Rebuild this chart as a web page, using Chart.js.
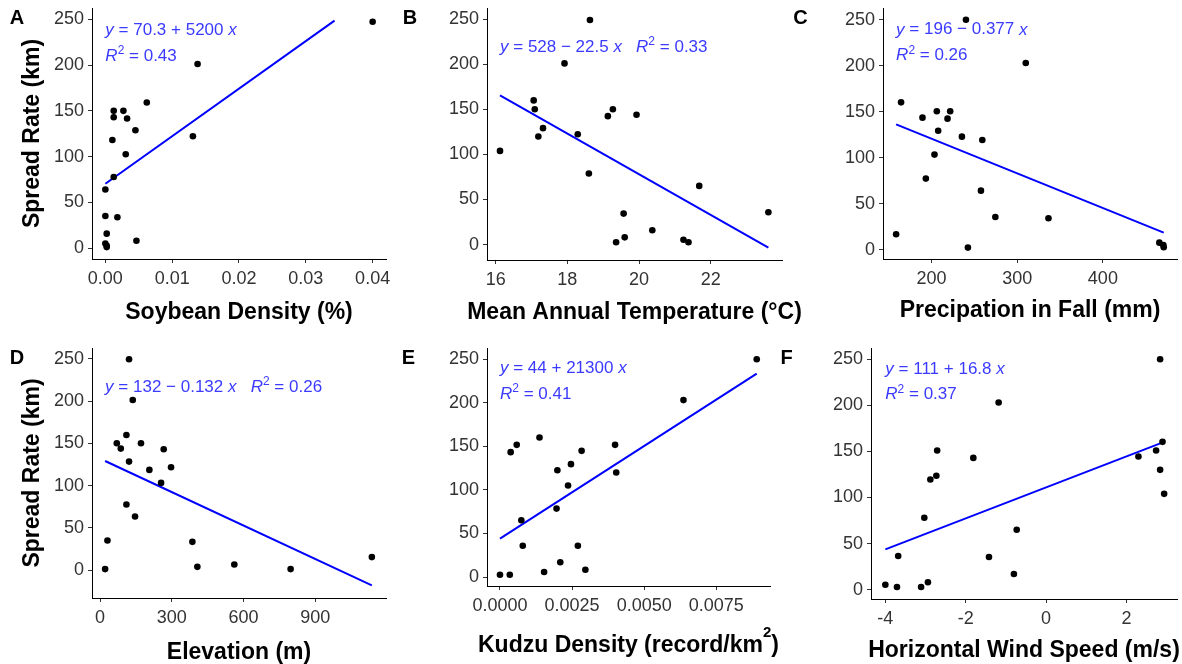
<!DOCTYPE html>
<html>
<head>
<meta charset="utf-8">
<script src="https://cdn.jsdelivr.net/npm/chart.js@4.4.1/dist/chart.umd.min.js"></script>
<style>
html,body{margin:0;padding:0;background:#fff;}
#wrap{position:relative;width:1182px;height:664px;overflow:hidden;background:#fff;}
.pc{position:absolute;}
.pc canvas{display:block;}
</style>
</head>
<body>
<div id="wrap"></div>
<script>
// ---------------- data ----------------
const yTicks = [0, 50, 100, 150, 200, 250];

// A: Soybean density
const soybeanDensity = [0.040, 0.0138, 0.0062, 0.00125, 0.0027, 0.00125, 0.00325, 0.0045, 0.0131, 0.00105, 0.00305, 0.00125, 0.0000, 0.0000, 0.0018, 0.0002, 0.0000, 0.0002, 0.0002, 0.00465];
const spreadA = [247.4, 201.3, 159.2, 150, 150, 143, 141.7, 128.8, 122.3, 118.2, 102.5, 77.6, 64, 35, 33.7, 15.7, 5, 1, 2.5, 8];
const xTicksA = [0, 0.01, 0.02, 0.03, 0.04];
const xTickLabelsA = ['0.00', '0.01', '0.02', '0.03', '0.04'];
const fitA = [70.3, 5200];
const fitRangeA = [0, 0.0343];

// B: Mean annual temperature
const meanTemp = [18.63, 17.92, 17.06, 17.09, 17.32, 17.19, 18.29, 16.12, 18.60, 19.27, 19.13, 19.93, 21.68, 19.57, 20.37, 19.36, 19.60, 21.24, 21.38, 23.61];
const spreadB = [248.9, 200.8, 159.8, 150.1, 129.1, 119.8, 122.4, 103.9, 78.8, 150.1, 142.4, 143.9, 65.1, 34.4, 15.9, 2.6, 8.1, 5.5, 2.6, 35.9];
const xTicksB = [16, 18, 20, 22];
const xTickLabelsB = ['16', '18', '20', '22'];
const fitB = [528, -22.5];
const fitRangeB = [16.12, 23.61];

// C: Precipitation in fall
const precipFall = [240.2, 310, 164.5, 189.5, 206.2, 221.8, 218.7, 207.8, 235.5, 259.3, 203.5, 193.4, 257.7, 274.5, 336.5, 158.7, 242.5, 465.9, 470.6, 471];
const spreadC = [250, 202.9, 160.1, 143.5, 150.4, 150.4, 142.4, 129.3, 122.8, 119.2, 103.3, 77.2, 64.1, 35.5, 34.1, 16.7, 2.2, 7.6, 5.1, 2.5];
const xTicksC = [200, 300, 400];
const xTickLabelsC = ['200', '300', '400'];
const fitC = [196, -0.377];
const fitRangeC = [158.7, 471];

// D: Elevation
const elevation = [121, 136.5, 110, 69.7, 86.4, 171, 266, 121, 206, 296.7, 255, 110, 146, 30.6, 386, 20.9, 406.8, 561.4, 797, 1136.8];
const spreadD = [249.6, 201.5, 160, 150.2, 143.9, 150.2, 143.1, 128.5, 118.7, 121.8, 103.3, 77.7, 63.5, 35.1, 33.5, 1.2, 3.9, 6.7, 1.2, 15.4];
const xTicksD = [0, 300, 600, 900];
const xTickLabelsD = ['0', '300', '600', '900'];
const fitD = [132, -0.132];
const fitRangeD = [20.9, 1136.8];

// E: Kudzu density
const kudzuDensity = [0.0089, 0.00636, 0.00137, 0.00058, 0.00037, 0.00283, 0.00246, 0.00199, 0.00399, 0.00403, 0.00236, 0.00196, 0.00074, 0.00079, 0.0027, 0.00209, 0.00153, 0.00296, 0.0000, 0.00034];
const spreadE = [250, 203.2, 160.3, 151.8, 143.4, 144.9, 129.6, 122.7, 151.8, 120, 105.1, 78.6, 65.2, 36, 36, 16.9, 5.8, 8.4, 2.7, 2.7];
const xTicksE = [0, 0.0025, 0.005, 0.0075];
const xTickLabelsE = ['0.0000', '0.0025', '0.0050', '0.0075'];
const fitE = [44, 21300];
const fitRangeE = [0, 0.0089];

// F: Horizontal wind speed
const windSpeed = [2.84, -1.18, 2.90, -2.71, 2.74, -1.81, 2.30, 2.84, -2.73, -2.88, 2.94, -3.03, -0.73, -3.68, -1.42, -0.80, -4.0, -2.94, -3.71, -3.11];
const spreadF = [250, 203, 160.4, 151, 151, 143, 144.5, 130, 123.6, 119.6, 104, 78, 65, 36.5, 35.4, 17, 5.4, 8, 2.9, 2.9];
const xTicksF = [-4, -2, 0, 2];
const xTickLabelsF = ['-4', '-2', '0', '2'];
const fitF = [111, 16.8];
const fitRangeF = [-4, 2.94];

// equation texts
const eqA = [[{t:'y',i:1},{t:' = 70.3 + 5200 '},{t:'x',i:1}], [{t:'R',i:1},{t:'2',sup:1},{t:' = 0.43'}]];
const eqB = [[{t:'y',i:1},{t:' = 528 \u2212 22.5 '},{t:'x',i:1},{t:'   '},{t:'R',i:1},{t:'2',sup:1},{t:' = 0.33'}]];
const eqC = [[{t:'y',i:1},{t:' = 196 \u2212 0.377 '},{t:'x',i:1}], [{t:'R',i:1},{t:'2',sup:1},{t:' = 0.26'}]];
const eqD = [[{t:'y',i:1},{t:' = 132 \u2212 0.132 '},{t:'x',i:1},{t:'   '},{t:'R',i:1},{t:'2',sup:1},{t:' = 0.26'}]];
const eqE = [[{t:'y',i:1},{t:' = 44 + 21300 '},{t:'x',i:1}], [{t:'R',i:1},{t:'2',sup:1},{t:' = 0.41'}]];
const eqF = [[{t:'y',i:1},{t:' = 111 + 16.8 '},{t:'x',i:1}], [{t:'R',i:1},{t:'2',sup:1},{t:' = 0.37'}]];

const xTitles = [
  [{t:'Soybean Density (%)'}],
  [{t:'Mean Annual Temperature (\u00B0C)'}],
  [{t:'Precipation in Fall (mm)'}],
  [{t:'Elevation (m)'}],
  [{t:'Kudzu Density (record/km'},{t:'2',sup:1},{t:')'}],
  [{t:'Horizontal Wind Speed (m/s)'}]
];
const yTitle = 'Spread Rate (km)';
const letters = ['A', 'B', 'C', 'D', 'E', 'F'];

// ---------------- layout ----------------
const FONT = '"Liberation Sans", Arial, Helvetica, sans-serif';
const EQ_COLOR = '#3b3bff';

const panels = [
  {x: soybeanDensity, y: spreadA, xt: xTicksA, xl: xTickLabelsA, fit: fitA, fr: fitRangeA, eq: eqA,
   box: {l:0, t:0, w:390, h:332}, padTop: 8, padRight: 3, yW: 92, xH: 73,
   xr: [-0.002, 0.042], yr: [-12, 262.5], labelY: 238, xTitleY: 312.5, let: [17, 18.5], showY: true},
  {x: meanTemp, y: spreadB, xt: xTicksB, xl: xTickLabelsB, fit: fitB, fr: fitRangeB, eq: eqB,
   box: {l:390, t:0, w:430, h:332}, padTop: 8, padRight: 38, yW: 97, xH: 72,
   xr: [15.757, 23.99], yr: [-17, 262.2], labelY: 219, xTitleY: 312.5, let: [20, 18.5], showY: false},
  {x: precipFall, y: spreadC, xt: xTicksC, xl: xTickLabelsC, fit: fitC, fr: fitRangeC, eq: eqC,
   box: {l:780, t:0, w:402, h:332}, padTop: 8, padRight: 5, yW: 103, xH: 73,
   xr: [143.4, 486.5], yr: [-10.2, 262.7], labelY: 239, xTitleY: 311, let: [20.5, 18.5], showY: false},
  {x: elevation, y: spreadD, xt: xTicksD, xl: xTickLabelsD, fit: fitD, fr: fitRangeD, eq: eqD,
   box: {l:0, t:332, w:390, h:332}, padTop: 16, padRight: 3, yW: 92, xH: 66,
   xr: [-34, 1196], yr: [-33, 263], labelY: 217, xTitleY: 320.5, let: [17, 26.5], showY: true},
  {x: kudzuDensity, y: spreadE, xt: xTicksE, xl: xTickLabelsE, fit: fitE, fr: fitRangeE, eq: eqE,
   box: {l:390, t:332, w:390, h:332}, padTop: 16, padRight: 10, yW: 97, xH: 78,
   xr: [-0.00045, 0.00936], yr: [-10.3, 263], labelY: 239.6, xTitleY: 313.7, let: [18.5, 26.5], showY: false},
  {x: windSpeed, y: spreadF, xt: xTicksF, xl: xTickLabelsF, fit: fitF, fr: fitRangeF, eq: eqF,
   box: {l:780, t:332, w:402, h:332}, padTop: 16, padRight: 5, yW: 91, xH: 65,
   xr: [-4.357, 3.26], yr: [-10.1, 262.2], labelY: 239.2, xTitleY: 319, let: [6.5, 26.5], showY: false}
];

function runsWidth(ctx, runs, mainFont, supFont) {
  let w = 0;
  runs.forEach(r => { ctx.font = r.sup ? supFont : mainFont; w += ctx.measureText(r.t).width; });
  return w;
}

function makePlugin(p, idx) {
  return {
    id: 'panelText' + idx,
    afterDatasetsDraw(chart) {
      const ctx = chart.ctx;
      const xs = chart.scales.x, ys = chart.scales.y;
      ctx.save();
      ctx.textBaseline = 'middle';
      ctx.textAlign = 'left';
      ctx.fillStyle = EQ_COLOR;
      const x0 = xs.getPixelForValue(Math.min.apply(null, p.x));
      const y0 = ys.getPixelForValue(p.labelY);
      p.eq.forEach((runs, li) => {
        let x = x0;
        const y = y0 + li * 25.5;
        runs.forEach(r => {
          const size = r.sup ? 12 : 17;
          ctx.font = (r.i ? 'italic ' : '') + size + 'px ' + FONT;
          ctx.fillText(r.t, x, r.sup ? y - 5 : y);
          x += ctx.measureText(r.t).width;
        });
      });
      // x-axis title
      ctx.fillStyle = '#000';
      const mainF = 'bold 23px ' + FONT, supF = 'bold 15px ' + FONT;
      const runs = xTitles[idx];
      const tw = runsWidth(ctx, runs, mainF, supF);
      let tx = (chart.chartArea.left + chart.chartArea.right) / 2 - tw / 2;
      runs.forEach(r => {
        ctx.font = r.sup ? supF : mainF;
        ctx.fillText(r.t, tx, r.sup ? p.xTitleY - 13 : p.xTitleY);
        tx += ctx.measureText(r.t).width;
      });
      // panel letter
      ctx.textAlign = 'center';
      ctx.font = 'bold 20px ' + FONT;
      ctx.fillText(letters[idx], p.let[0], p.let[1]);
      ctx.restore();
    }
  };
}

const wrap = document.getElementById('wrap');
panels.forEach((p, idx) => {
  const div = document.createElement('div');
  div.className = 'pc';
  div.style.left = p.box.l + 'px';
  div.style.top = p.box.t + 'px';
  div.style.width = p.box.w + 'px';
  div.style.height = p.box.h + 'px';
  const cv = document.createElement('canvas');
  cv.width = p.box.w; cv.height = p.box.h;
  cv.style.width = p.box.w + 'px'; cv.style.height = p.box.h + 'px';
  div.appendChild(cv);
  wrap.appendChild(div);

  const pts = p.x.map((v, i) => ({x: v, y: p.y[i]}));
  const linePts = p.fr.map(v => ({x: v, y: p.fit[0] + p.fit[1] * v}));

  new Chart(cv, {
    type: 'scatter',
    data: {
      datasets: [
        {type: 'line', data: linePts, borderColor: '#0000ff', borderWidth: 2, pointRadius: 0, fill: false, tension: 0, order: 2},
        {type: 'scatter', data: pts, backgroundColor: '#000', borderColor: '#000', pointRadius: 3.3, borderWidth: 0, order: 1}
      ]
    },
    options: {
      responsive: false,
      maintainAspectRatio: false,
      animation: false,
      devicePixelRatio: 1,
      layout: {padding: {top: p.padTop, right: p.padRight, bottom: 0, left: 0}},
      plugins: {legend: {display: false}, tooltip: {enabled: false}},
      scales: {
        x: {
          type: 'linear', position: 'bottom', min: p.xr[0], max: p.xr[1],
          afterBuildTicks: s => { s.ticks = p.xt.map(v => ({value: v})); },
          afterFit: s => { s.height = p.xH; s.paddingLeft = 0; s.paddingRight = 0; s.paddingTop = 0; s.paddingBottom = 0; },
          grid: {display: true, drawOnChartArea: false, drawTicks: true, tickLength: 4, color: '#333', lineWidth: 1},
          border: {display: true, color: '#000', width: 1},
          ticks: {font: {family: FONT, size: 18}, color: '#333', padding: 5, maxRotation: 0, minRotation: 0, autoSkip: false,
                  callback: (v) => p.xl[p.xt.indexOf(v)]}
        },
        y: {
          type: 'linear', position: 'left', min: p.yr[0], max: p.yr[1],
          afterBuildTicks: s => { s.ticks = yTicks.map(v => ({value: v})); },
          afterFit: s => { s.width = p.yW; s.paddingLeft = 0; s.paddingRight = 0; s.paddingTop = 0; s.paddingBottom = 0; },
          grid: {display: true, drawOnChartArea: false, drawTicks: true, tickLength: 4, color: '#333', lineWidth: 1},
          border: {display: true, color: '#000', width: 1},
          ticks: {font: {family: FONT, size: 18}, color: '#333', padding: 4, autoSkip: false,
                  callback: (v) => String(v)},
          title: {display: p.showY, text: yTitle, color: '#000',
                  font: {family: FONT, size: 23, weight: 'bold', lineHeight: 1.1}, padding: {top: 20, bottom: 0}}
        }
      }
    },
    plugins: [makePlugin(p, idx)]
  });
});
</script>
</body>
</html>
